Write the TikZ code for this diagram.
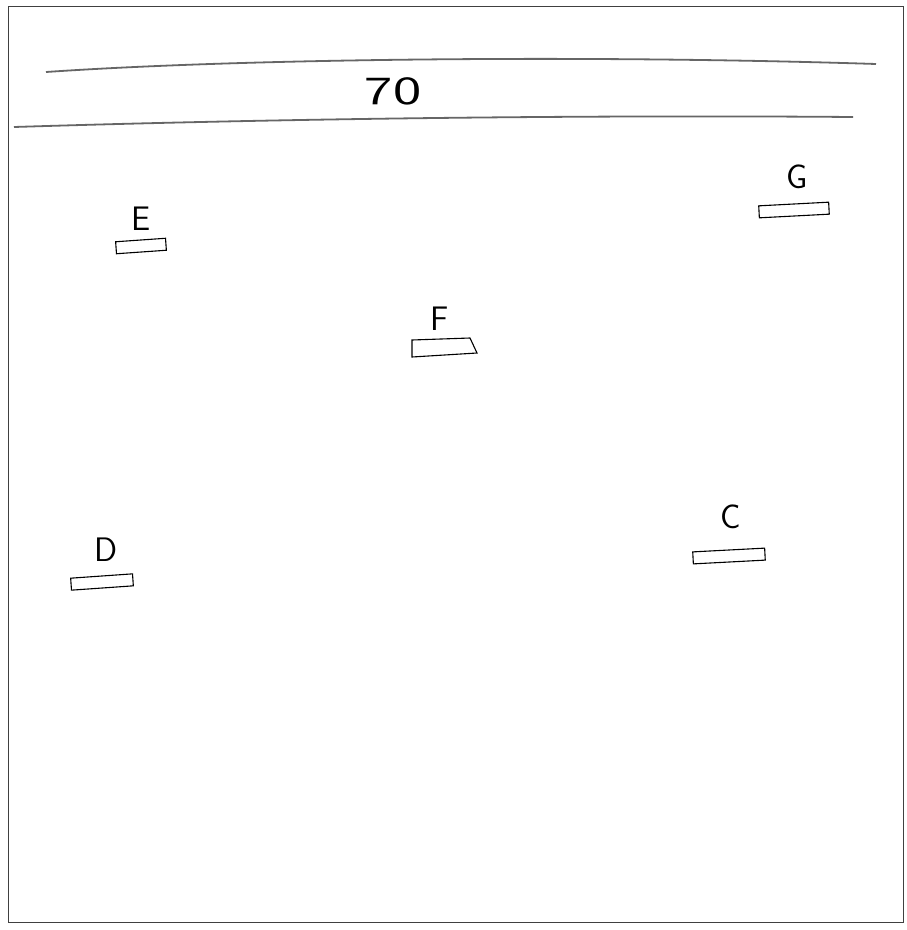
\documentclass[tikz,border=0pt]{standalone}
\usepackage{fontspec}
\begin{document}
\begin{tikzpicture}[x=1pt,y=-1pt,
  box/.style={draw=black,line width=1.1pt,inner sep=0pt,minimum height=12pt},
  lbl/.style={font=\fontsize{34}{34}\selectfont\sffamily,inner sep=0pt},
  frameline/.style={draw=black!75,line width=0.8pt},
  rule/.style={draw=black!60,line width=1.8pt}]
\useasboundingbox (0,0) rectangle (907,930);
\fill[white] (0,0) rectangle (907,930);
% frame
\coordinate (tl) at (8,6);
\coordinate (tr) at (903,6);
\coordinate (br) at (903,922);
\coordinate (bl) at (8,922);
\draw[frameline] (tl) -- (tr) -- (br) -- (bl) -- cycle;
% header rules
\coordinate (r1a) at (46,72);
\coordinate (r1b) at (876,64);
\coordinate (r2a) at (14,127);
\coordinate (r2b) at (853,117);
\draw[rule] (r1a) .. controls (250,58) and (600,55) .. (r1b);
\draw[rule] (r2a) .. controls (300,118) and (600,115) .. (r2b);
\node[lbl,font=\fontsize{40}{40}\selectfont\sffamily] (title) at (393,91) {\scalebox{1.5}[1]{70}};
% stations
\node[lbl] (lE) at (141,219) {E};
\node[box,minimum width=50pt,rotate=4] (bE) at (141,246) {};
\node[lbl] (lG) at (797,177) {G};
\node[box,minimum width=70pt,rotate=3] (bG) at (794,210) {};
\node[lbl] (lF) at (440,319) {F};
\coordinate (f1) at (412,340);
\coordinate (f2) at (470,338);
\coordinate (f3) at (477,353);
\coordinate (f4) at (412,357);
\draw[line width=1.1pt] (f1) -- (f2) -- (f3) -- (f4) -- cycle;
\node[lbl] (lD) at (106,550) {D};
\node[box,minimum width=62pt,rotate=4] (bD) at (102,582) {};
\node[lbl] (lC) at (731,517) {C};
\node[box,minimum width=72pt,rotate=3] (bC) at (729,556) {};
\end{tikzpicture}
\end{document}
